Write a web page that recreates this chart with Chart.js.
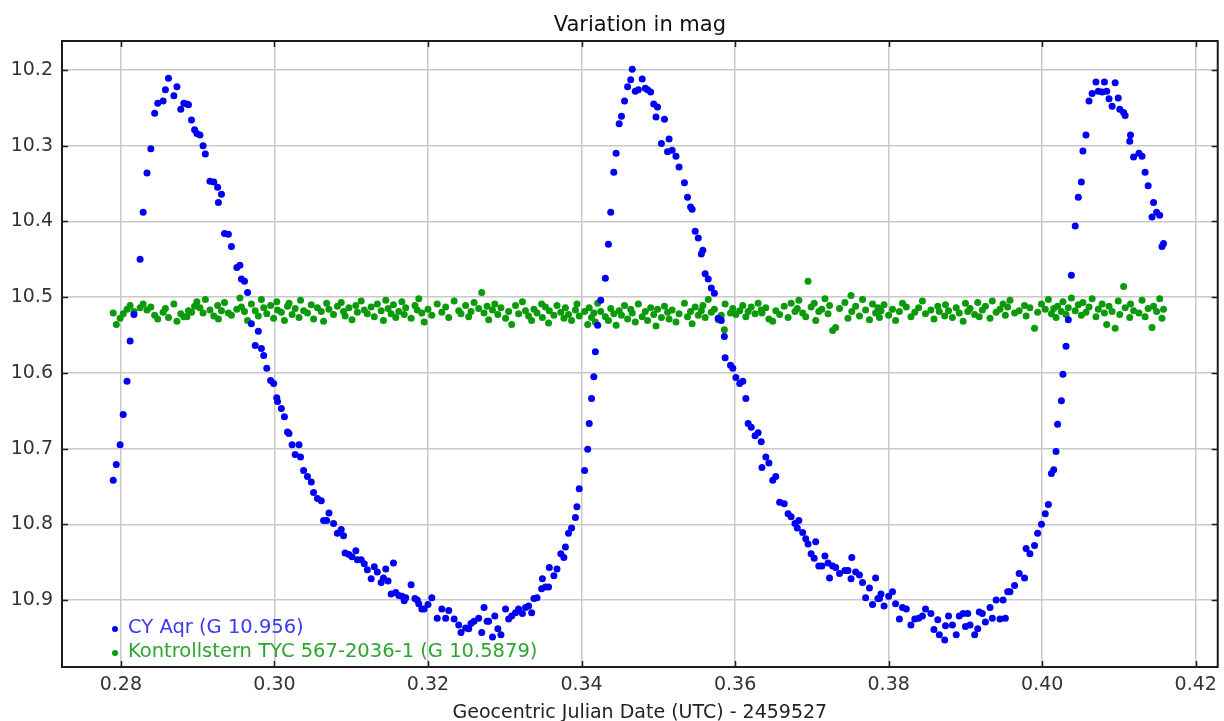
<!DOCTYPE html>
<html>
<head>
<meta charset="utf-8">
<title>CY Aqr - Variation in mag</title>
<script src="https://cdn.jsdelivr.net/npm/chart.js@4.4.0/dist/chart.umd.min.js"></script>
<style>
  html, body { margin: 0; padding: 0; background: #fff; }
  #lightCurve { display: block; }
</style>
</head>
<body>
<canvas id="lightCurve" width="1224" height="721"></canvas>
<script>
// Geocentric JD - 2459527, one entry per frame (both stars measured on the same frames)
const jd = [
  0.2790,0.2794,0.2799,0.2803,0.2808,0.2812,0.2817,0.2825,0.2829,0.2834,
  0.2839,0.2844,0.2848,0.2855,0.2858,0.2862,0.2869,0.2873,0.2878,0.2882,
  0.2886,0.2888,0.2892,0.2896,0.2899,0.2903,0.2907,0.2910,0.2916,0.2921,
  0.2926,0.2927,0.2931,0.2935,0.2940,0.2944,0.2951,0.2955,0.2957,0.2961,
  0.2965,0.2970,0.2975,0.2979,0.2983,0.2986,0.2990,0.2995,0.2999,0.3003,
  0.3004,0.3009,0.3013,0.3017,0.3019,0.3023,0.3027,0.3032,0.3034,0.3038,
  0.3043,0.3048,0.3051,0.3056,0.3061,0.3064,0.3068,0.3071,0.3077,0.3082,
  0.3087,0.3090,0.3092,0.3097,0.3101,0.3106,0.3108,0.3113,0.3117,0.3121,
  0.3126,0.3130,0.3134,0.3139,0.3142,0.3145,0.3148,0.3152,0.3155,0.3158,
  0.3162,0.3166,0.3169,0.3171,0.3178,0.3183,0.3186,0.3188,0.3192,0.3195,
  0.3200,0.3205,0.3212,0.3218,0.3223,0.3227,0.3234,0.3240,0.3243,0.3249,
  0.3253,0.3256,0.3260,0.3266,0.3270,0.3273,0.3277,0.3279,0.3284,0.3287,
  0.3291,0.3295,0.3301,0.3305,0.3309,0.3314,0.3318,0.3323,0.3327,0.3331,
  0.3335,0.3338,0.3342,0.3348,0.3349,0.3353,0.3357,0.3358,0.3364,0.3368,
  0.3373,0.3377,0.3379,0.3383,0.3387,0.3392,0.3394,0.3397,0.3404,0.3408,
  0.3410,0.3413,0.3416,0.3418,0.3421,0.3425,0.3431,0.3435,0.3438,0.3442,
  0.3445,0.3449,0.3452,0.3456,0.3460,0.3464,0.3466,0.3470,0.3474,0.3479,
  0.3483,0.3486,0.3490,0.3494,0.3497,0.3499,0.3504,0.3508,0.3512,0.3514,
  0.3518,0.3523,0.3527,0.3534,0.3538,0.3542,0.3544,0.3548,0.3552,0.3556,
  0.3558,0.3561,0.3565,0.3569,0.3573,0.3578,0.3582,0.3586,0.3587,0.3594,
  0.3597,0.3601,0.3606,0.3610,0.3614,0.3617,0.3621,0.3626,0.3630,0.3634,
  0.3635,0.3640,0.3644,0.3649,0.3653,0.3658,0.3664,0.3669,0.3673,0.3678,
  0.3681,0.3683,0.3688,0.3692,0.3695,0.3699,0.3703,0.3705,0.3709,0.3713,
  0.3717,0.3721,0.3723,0.3727,0.3731,0.3736,0.3743,0.3747,0.3751,0.3752,
  0.3757,0.3762,0.3766,0.3770,0.3775,0.3779,0.3783,0.3786,0.3788,0.3790,
  0.3794,0.3800,0.3805,0.3809,0.3814,0.3818,0.3823,0.3829,0.3834,0.3839,
  0.3844,0.3848,0.3855,0.3859,0.3864,0.3866,0.3873,0.3874,0.3878,0.3883,
  0.3888,0.3892,0.3897,0.3900,0.3903,0.3906,0.3912,0.3916,0.3918,0.3922,
  0.3926,0.3932,0.3935,0.3940,0.3945,0.3949,0.3952,0.3955,0.3958,0.3964,
  0.3970,0.3977,0.3979,0.3984,0.3990,0.3994,0.3999,0.4004,0.4008,0.4012,
  0.4015,0.4018,0.4020,0.4025,0.4027,0.4031,0.4034,0.4038,0.4043,0.4047,
  0.4051,0.4053,0.4057,0.4061,0.4065,0.4070,0.4073,0.4078,0.4081,0.4084,
  0.4087,0.4091,0.4095,0.4099,0.4101,0.4106,0.4108,0.4114,0.4115,0.4119,
  0.4126,0.4130,0.4134,0.4138,0.4143,0.4145,0.4149,0.4153,0.4156,0.4158
];

// CY Aqr magnitudes
const cyAqrMag = [
  10.742,10.721,10.695,10.655,10.611,10.558,10.523,10.450,10.388,10.336,
  10.304,10.257,10.244,10.241,10.226,10.211,10.234,10.222,10.252,10.244,
  10.245,10.246,10.266,10.279,10.284,10.286,10.300,10.311,10.347,10.348,
  10.355,10.375,10.364,10.416,10.417,10.433,10.461,10.458,10.476,10.479,
  10.494,10.535,10.564,10.545,10.568,10.577,10.594,10.610,10.614,10.633,
  10.638,10.647,10.658,10.678,10.680,10.695,10.708,10.695,10.711,10.729,
  10.737,10.744,10.758,10.766,10.769,10.795,10.795,10.785,10.799,10.812,
  10.807,10.815,10.838,10.840,10.843,10.835,10.847,10.847,10.852,10.860,
  10.872,10.856,10.863,10.877,10.871,10.859,10.875,10.892,10.851,10.890,
  10.894,10.895,10.901,10.897,10.880,10.898,10.900,10.905,10.912,10.912,
  10.906,10.897,10.924,10.912,10.924,10.914,10.925,10.933,10.943,10.937,
  10.938,10.931,10.928,10.924,10.943,10.910,10.928,10.928,10.949,10.921,
  10.938,10.946,10.912,10.925,10.921,10.917,10.912,10.918,10.910,10.908,
  10.917,10.898,10.897,10.885,10.872,10.883,10.883,10.857,10.868,10.859,
  10.839,10.844,10.830,10.812,10.805,10.791,10.777,10.753,10.729,10.701,
  10.667,10.634,10.605,10.572,10.537,10.504,10.475,10.430,10.388,10.335,
  10.310,10.271,10.261,10.241,10.222,10.213,10.199,10.228,10.226,10.212,
  10.224,10.226,10.229,10.245,10.262,10.249,10.297,10.265,10.308,10.291,
  10.306,10.314,10.328,10.349,10.368,10.381,10.384,10.413,10.422,10.443,
  10.438,10.469,10.476,10.488,10.495,10.528,10.531,10.552,10.580,10.590,
  10.594,10.606,10.614,10.611,10.634,10.667,10.672,10.683,10.679,10.691,
  10.725,10.711,10.719,10.742,10.737,10.771,10.773,10.786,10.790,10.799,
  10.805,10.795,10.811,10.819,10.826,10.839,10.845,10.823,10.855,10.855,
  10.842,10.851,10.871,10.855,10.857,10.865,10.861,10.861,10.872,10.844,
  10.863,10.867,10.877,10.897,10.884,10.906,10.871,10.898,10.898,10.892,
  10.908,10.895,10.889,10.905,10.925,10.910,10.912,10.933,10.925,10.924,
  10.921,10.912,10.918,10.939,10.926,10.946,10.953,10.934,10.921,10.933,
  10.946,10.921,10.918,10.935,10.918,10.933,10.946,10.938,10.916,10.918,
  10.929,10.910,10.924,10.900,10.925,10.900,10.924,10.889,10.889,10.881,
  10.865,10.871,10.832,10.839,10.828,10.812,10.800,10.786,10.774,10.733,
  10.728,10.704,10.668,10.637,10.602,10.565,10.530,10.471,10.406,10.368,
  10.348,10.307,10.286,10.241,10.231,10.216,10.228,10.229,10.216,10.228,
  10.238,10.248,10.217,10.237,10.252,10.256,10.260,10.294,10.286,10.315,
  10.310,10.314,10.335,10.353,10.394,10.375,10.388,10.392,10.433,10.429
];

// Kontrollstern TYC 567-2036-1 magnitudes
const checkStarMag = [
  10.521,10.536,10.528,10.522,10.516,10.511,10.519,10.514,10.509,10.517,
  10.513,10.524,10.529,10.520,10.515,10.527,10.509,10.532,10.522,10.526,
  10.526,10.518,10.520,10.512,10.506,10.514,10.521,10.503,10.517,10.525,
  10.511,10.529,10.518,10.507,10.521,10.524,10.516,10.501,10.513,10.519,
  10.531,10.509,10.518,10.525,10.503,10.514,10.522,10.511,10.528,10.506,
  10.517,10.520,10.531,10.512,10.508,10.523,10.515,10.527,10.504,10.518,
  10.521,10.510,10.529,10.514,10.519,10.532,10.508,10.516,10.523,10.512,
  10.507,10.519,10.525,10.514,10.530,10.511,10.520,10.505,10.517,10.522,
  10.513,10.526,10.509,10.518,10.531,10.504,10.515,10.522,10.510,10.527,
  10.519,10.506,10.523,10.514,10.528,10.511,10.517,10.502,10.521,10.533,
  10.516,10.524,10.509,10.520,10.513,10.527,10.505,10.518,10.522,10.511,
  10.526,10.519,10.507,10.515,10.494,10.521,10.512,10.530,10.517,10.509,
  10.523,10.514,10.528,10.519,10.536,10.511,10.522,10.506,10.518,10.525,
  10.531,10.516,10.521,10.509,10.527,10.513,10.534,10.518,10.524,10.511,
  10.520,10.528,10.514,10.523,10.531,10.517,10.509,10.525,10.519,10.536,
  10.514,10.527,10.521,10.533,10.508,10.519,10.526,10.531,10.515,10.522,
  10.537,10.518,10.524,10.511,10.529,10.516,10.521,10.533,10.509,10.526,
  10.519,10.531,10.514,10.523,10.538,10.516,10.527,10.512,10.520,10.529,
  10.517,10.533,10.522,10.508,10.526,10.519,10.535,10.513,10.524,10.518,
  10.511,10.527,10.503,10.520,10.516,10.530,10.524,10.543,10.509,10.521,
  10.515,10.523,10.518,10.511,10.526,10.519,10.513,10.522,10.508,10.517,
  10.521,10.514,10.529,10.532,10.518,10.523,10.512,10.527,10.508,10.519,
  10.515,10.504,10.521,10.526,10.479,10.513,10.508,10.531,10.519,10.516,
  10.502,10.522,10.511,10.544,10.540,10.515,10.507,10.528,10.498,10.519,
  10.512,10.525,10.503,10.517,10.530,10.509,10.521,10.514,10.527,10.518,
  10.510,10.524,10.516,10.531,10.519,10.508,10.513,10.526,10.520,10.514,
  10.505,10.522,10.517,10.529,10.512,10.519,10.525,10.510,10.518,10.527,
  10.514,10.521,10.532,10.508,10.519,10.515,10.523,10.507,10.526,10.517,
  10.512,10.528,10.505,10.520,10.516,10.509,10.524,10.513,10.504,10.521,
  10.518,10.511,10.525,10.514,10.541,10.520,10.509,10.516,10.503,10.522,
  10.515,10.527,10.512,10.519,10.506,10.523,10.514,10.501,10.518,10.510,
  10.524,10.507,10.520,10.513,10.502,10.526,10.516,10.509,10.521,10.536,
  10.512,10.519,10.541,10.505,10.523,10.486,10.514,10.527,10.509,10.518,
  10.521,10.504,10.526,10.515,10.540,10.512,10.519,10.502,10.528,10.516
];

const seriesNames = ['CY Aqr (G 10.956)', 'Kontrollstern TYC 567-2036-1 (G 10.5879)'];
const xTicks = [0.28, 0.30, 0.32, 0.34, 0.36, 0.38, 0.40, 0.42];
const yTicks = [10.2, 10.3, 10.4, 10.5, 10.6, 10.7, 10.8, 10.9];
const chartTitle = 'Variation in mag';
const xAxisTitle = 'Geocentric Julian Date (UTC) - 2459527';

const FONT = '"DejaVu Sans", sans-serif';
const BLUE = '#0000f5';
const GREEN = '#0a9a0a';

// frame, inward tick marks, title, axis title and in-plot legend
const decorPlugin = {
    id: 'decor',
    afterDatasetsDraw(chart) {
        const { ctx, chartArea: a, scales } = chart;
        ctx.save();
        ctx.strokeStyle = '#1c1c1c';
        ctx.lineWidth = 1.5;
        ctx.beginPath();
        scales.x.ticks.forEach(t => {
            const px = Math.round(scales.x.getPixelForValue(t.value)) + 0.5;
            ctx.moveTo(px, a.top); ctx.lineTo(px, a.top + 6);
            ctx.moveTo(px, a.bottom); ctx.lineTo(px, a.bottom - 6);
        });
        scales.y.ticks.forEach(t => {
            const py = Math.round(scales.y.getPixelForValue(t.value)) + 0.5;
            ctx.moveTo(a.left, py); ctx.lineTo(a.left + 6, py);
            ctx.moveTo(a.right, py); ctx.lineTo(a.right - 6, py);
        });
        ctx.stroke();
        ctx.lineWidth = 2;
        ctx.strokeRect(a.left, a.top, a.right - a.left, a.bottom - a.top);
        ctx.restore();
    },
    afterDraw(chart) {
        const { ctx, chartArea: a } = chart;
        const midX = (a.left + a.right) / 2;
        ctx.save();
        ctx.fillStyle = '#111';
        ctx.textAlign = 'center';
        ctx.textBaseline = 'alphabetic';
        ctx.font = '21px ' + FONT;
        ctx.fillText(chartTitle, midX, 31);
        ctx.font = '19px ' + FONT;
        ctx.fillStyle = '#222';
        ctx.fillText(xAxisTitle, midX, 718);

        // legend inside the plot, bottom left
        const rows = [
            { text: seriesNames[0], color: '#3a3af2', dot: BLUE, y: a.bottom - 39 },
            { text: seriesNames[1], color: '#2ea52e', dot: GREEN, y: a.bottom - 15 }
        ];
        ctx.font = '19.5px ' + FONT;
        ctx.textAlign = 'left';
        ctx.textBaseline = 'middle';
        rows.forEach(r => {
            ctx.fillStyle = r.dot;
            ctx.beginPath();
            ctx.arc(a.left + 53, r.y + 1, 3, 0, Math.PI * 2);
            ctx.fill();
            ctx.fillStyle = r.color;
            ctx.fillText(r.text, a.left + 66, r.y);
        });
        ctx.restore();
    }
};

new Chart(document.getElementById('lightCurve'), {
    type: 'scatter',
    data: {
        datasets: [
            {
                label: seriesNames[0],
                data: jd.map((x, i) => ({ x: x, y: cyAqrMag[i] })),
                backgroundColor: BLUE,
                borderWidth: 0,
                pointRadius: 3.5
            },
            {
                label: seriesNames[1],
                data: jd.map((x, i) => ({ x: x, y: checkStarMag[i] })),
                backgroundColor: GREEN,
                borderWidth: 0,
                pointRadius: 3.5
            }
        ]
    },
    options: {
        responsive: false,
        animation: false,
        devicePixelRatio: 1,
        layout: { padding: { top: 41, right: 4, left: 0, bottom: 0 } },
        plugins: {
            legend: { display: false },
            title: { display: false },
            tooltip: { enabled: false }
        },
        scales: {
            x: {
                type: 'linear',
                min: 0.27233,
                max: 0.42286,
                afterBuildTicks: scale => { scale.ticks = xTicks.map(v => ({ value: v })); },
                afterFit: scale => { scale.height = 54; },
                grid: { color: '#c9c9c9', lineWidth: 1.5, drawTicks: false },
                border: { display: false },
                ticks: {
                    padding: 7,
                    color: '#333',
                    font: { family: FONT, size: 19 },
                    maxRotation: 0,
                    callback: v => v.toFixed(2)
                }
            },
            y: {
                type: 'linear',
                reverse: true,
                min: 10.1617,
                max: 10.9885,
                afterBuildTicks: scale => { scale.ticks = yTicks.map(v => ({ value: v })); },
                afterFit: scale => { scale.width = 62; },
                grid: { color: '#c9c9c9', lineWidth: 1.5, drawTicks: false },
                border: { display: false },
                ticks: {
                    padding: 9,
                    color: '#333',
                    font: { family: FONT, size: 19 },
                    callback: v => v.toFixed(1)
                }
            }
        }
    },
    plugins: [decorPlugin]
});
</script>
</body>
</html>
